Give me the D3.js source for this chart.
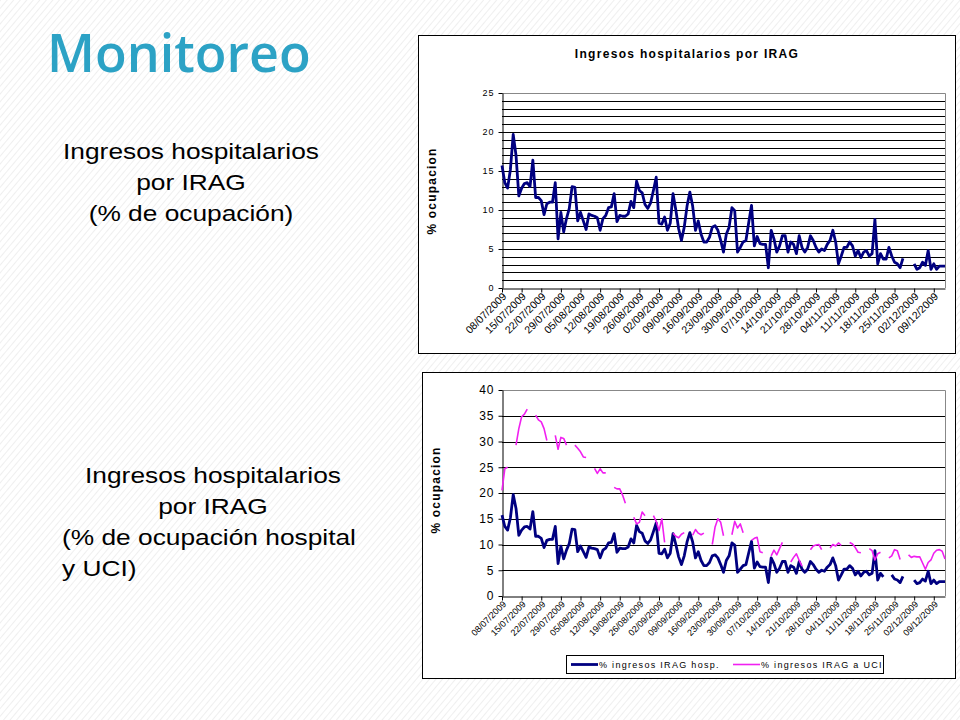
<!DOCTYPE html>
<html>
<head>
<meta charset="utf-8">
<script src="https://cdn.jsdelivr.net/npm/d3@7"></script>
<style>
body { margin: 0; background: #fff; }
svg { display: block; }
text { font-family: "Liberation Sans", Arial, sans-serif; }
</style>
</head>
<body>
<svg id="slide" width="960" height="720"></svg>
<script>
// weekly labels on the x axis (one every 7 days from 08/07/2009)
var weekLabels = ["08/07/2009","15/07/2009","22/07/2009","29/07/2009","05/08/2009","12/08/2009",
  "19/08/2009","26/08/2009","02/09/2009","09/09/2009","16/09/2009","23/09/2009","30/09/2009",
  "07/10/2009","14/10/2009","21/10/2009","28/10/2009","04/11/2009","11/11/2009","18/11/2009",
  "25/11/2009","02/12/2009","09/12/2009"];

// % ingresos IRAG hosp. (daily, 08/07 -> 13/12)
var hosp = [
  15.7, 13.5, 12.8, 15.2, 19.7, 17.0, 11.8, 12.8, 13.4, 13.5,
  13.0, 16.4, 11.6, 11.6, 11.2, 9.4, 10.8, 11.0, 11.0, 13.5,
  6.3, 9.7, 7.2, 8.9, 10.2, 13.0, 12.9, 8.6, 9.7, 8.6,
  7.5, 9.5, 9.3, 9.2, 9.0, 7.4, 8.9, 9.3, 10.3, 10.4,
  12.1, 8.5, 9.3, 9.2, 9.2, 9.5, 11.1, 10.3, 13.7, 12.5,
  12.2, 10.7, 10.2, 10.9, 12.5, 14.2, 8.3, 8.2, 9.1, 7.4,
  8.3, 12.1, 10.0, 7.6, 6.1, 7.8, 10.5, 12.3, 10.5, 7.4,
  8.6, 6.9, 5.9, 5.9, 6.5, 7.8, 8.0, 7.4, 6.1, 4.6,
  6.9, 7.8, 10.3, 9.9, 4.6, 5.2, 5.9, 6.1, 8.4, 10.6,
  5.4, 6.6, 5.7, 5.6, 5.6, 2.6, 7.4, 6.3, 4.6, 5.4,
  6.7, 6.7, 4.6, 5.9, 5.6, 4.4, 6.7, 5.2, 4.6, 5.2,
  6.7, 6.1, 5.2, 4.6, 5.0, 4.8, 5.6, 6.1, 7.4, 5.9,
  3.1, 4.1, 5.2, 5.2, 5.9, 5.4, 4.1, 4.8, 3.9, 4.6,
  4.8, 4.1, 4.4, 8.8, 3.1, 4.4, 3.7, 3.7, 5.2, 4.1,
  3.3, 3.1, 2.6, 3.8, null, null, null, 3.1, 2.4, 2.6,
  3.3, 2.9, 4.8, 2.4, 3.1, 2.4, 2.8, 2.8, 2.8
];

// % ingresos IRAG a UCI (weekdays only until December)
var uci = [
  20.5, 24.7, 25.0, null, null, 29.3, 32.5, 34.8, 35.3, 36.3,
  null, null, 35.1, 34.2, 33.8, 32.5, 30.2, null, null, 31.2,
  28.5, 30.8, 30.6, 29.3, null, null, 29.3, 28.7, 28.0, 27.0,
  26.9, null, null, 24.8, 23.8, 24.7, 23.9, 23.9, null, null,
  21.1, 20.8, 20.8, 19.6, 18.0, null, null, 15.3, 14.0, 14.3,
  16.3, 15.6, null, null, 15.6, 14.5, 12.7, 15.0, 10.4, null,
  null, 12.2, 11.6, 11.3, 12.0, 12.3, null, null, 11.8, 12.9,
  12.2, 11.9, 12.2, null, null, 10.0, 13.4, 15.0, 14.3, 11.7,
  null, null, 11.9, 14.5, 13.2, 14.0, 12.3, null, null, 10.8,
  11.2, 11.4, 8.6, 8.4, null, null, 7.8, 8.9, 8.0, 9.2,
  10.4, null, null, 6.6, 7.5, 8.2, 6.9, 5.8, null, null,
  9.0, 9.7, 9.9, 10.0, 9.0, null, null, 9.3, 10.0, 9.7,
  10.3, 9.8, null, null, 10.4, 10.1, 9.4, 8.5, 8.4, null,
  null, 9.2, 8.8, 7.0, 8.2, 8.5, null, null, 7.4, 7.8,
  9.0, 8.8, 7.1, null, null, 8.0, 7.5, 7.7, 7.6, 7.6,
  6.4, 5.2, 6.5, 7.0, 8.3, 8.9, 9.0, 8.7, 7.2
];

// days missing from the hosp. line in the second chart
var gapsBottom = [137, 138];

var ticksTop = [0, 5, 10, 15, 20, 25];
var ticksBottom = [0, 5, 10, 15, 20, 25, 30, 35, 40];

var svg = d3.select("#slide");

// faint diagonal stripes of the slide background
var defs = svg.append("defs");
var pat = defs.append("pattern")
  .attr("id", "stripes")
  .attr("width", 5).attr("height", 5)
  .attr("patternUnits", "userSpaceOnUse")
  .attr("patternTransform", "rotate(40)");
pat.append("line")
  .attr("x1", 0).attr("y1", 0).attr("x2", 0).attr("y2", 5)
  .style("stroke", "#efefef").style("stroke-width", 2);
svg.append("rect").attr("width", 960).attr("height", 720).style("fill", "url(#stripes)");

// left side texts
svg.append("text")
  .attr("x", 47).attr("y", 72)
  .style("font-family", "'Open Sans', 'Noto Sans', sans-serif")
  .style("font-weight", 600)
  .style("font-size", "52px")
  .style("fill", "#2ca2c5")
  .text("Monitoreo");

// the slide text is a bit wider than plain Arial, stretch it horizontally
function slideText(x, y, anchor, s) {
  svg.append("text")
    .attr("transform", "translate(" + x + "," + y + ") scale(1.17,1)")
    .style("font-size", "22.5px")
    .style("text-anchor", anchor)
    .style("fill", "#000")
    .text(s);
}
slideText(191, 159, "middle", "Ingresos hospitalarios");
slideText(191, 190, "middle", "por IRAG");
slideText(191, 221, "middle", "(% de ocupación)");

slideText(213, 483, "middle", "Ingresos hospitalarios");
slideText(213, 514, "middle", "por IRAG");
slideText(62, 545, "start", "(% de ocupación hospital");
slideText(62, 576, "start", "y UCI)");

function drawChart(cfg) {
  var g = svg.append("g");

  g.append("rect")
    .attr("x", cfg.box[0] + 0.5).attr("y", cfg.box[1] + 0.5)
    .attr("width", cfg.box[2]).attr("height", cfg.box[3])
    .style("fill", "#fff").style("stroke", "#000").style("stroke-width", 1);

  var x = d3.scaleLinear().domain([0, hosp.length - 1]).range([cfg.left, cfg.right]);
  var y = d3.scaleLinear().domain([0, cfg.yMax]).range([cfg.bottom, cfg.top]);

  // horizontal grid
  g.selectAll(".grid")
    .data(d3.range(cfg.gridStep, cfg.yMax, cfg.gridStep))
    .enter().append("line")
    .attr("x1", cfg.left).attr("x2", cfg.right)
    .attr("y1", function(d) { return Math.round(y(d)) + 0.5; })
    .attr("y2", function(d) { return Math.round(y(d)) + 0.5; })
    .style("stroke", "#000").style("stroke-width", 1);

  // grey top / right frame
  g.append("path")
    .attr("d", "M" + cfg.left + "," + (cfg.top + 0.5) + "H" + (cfg.right + 0.5) + "V" + cfg.bottom)
    .style("fill", "none").style("stroke", "#888").style("stroke-width", 1);

  // y axis
  var ya = g.append("g")
    .attr("transform", "translate(" + (cfg.left + 0.5) + ",0)")
    .call(d3.axisLeft(y).tickValues(cfg.yTicks).tickSize(4).tickPadding(4).tickSizeOuter(0));
  ya.select(".domain").style("stroke", "#000");
  ya.selectAll("line").style("stroke", "#000");
  ya.selectAll("text")
    .style("font-family", "'Liberation Sans', Arial, sans-serif")
    .style("font-size", cfg.yFont + "px")
    .style("letter-spacing", "1px")
    .style("fill", "#000");

  // x axis with rotated weekly dates
  var xa = g.append("g")
    .attr("transform", "translate(0," + (cfg.bottom + 0.5) + ")")
    .call(d3.axisBottom(x)
      .tickValues(weekLabels.map(function(d, i) { return i * 7; }))
      .tickFormat(function(d, i) { return weekLabels[i]; })
      .tickSize(4).tickSizeOuter(0));
  xa.select(".domain").style("stroke", "#000");
  xa.selectAll("line").style("stroke", "#000");
  xa.selectAll("text")
    .attr("x", 0).attr("y", 0).attr("dy", "0.35em")
    .attr("transform", "translate(2," + cfg.labelDrop + ") rotate(-45)")
    .style("text-anchor", "end")
    .style("font-family", "'Liberation Sans', Arial, sans-serif")
    .style("font-size", cfg.xFont + "px")
    .style("fill", "#000");

  // y axis title
  g.append("text")
    .attr("transform", "translate(" + cfg.yTitle[0] + "," + cfg.yTitle[1] + ") rotate(-90)")
    .style("text-anchor", "middle")
    .style("font-weight", "bold")
    .style("font-size", cfg.yTitleFont + "px")
    .style("letter-spacing", "1.2px")
    .text("% ocupacion");

  if (cfg.title) {
    g.append("text")
      .attr("x", cfg.title[0]).attr("y", cfg.title[1])
      .style("text-anchor", "middle")
      .style("font-weight", "bold")
      .style("font-size", "12px")
      .style("letter-spacing", "1.3px")
      .text("Ingresos hospitalarios por IRAG");
  }

  var line = d3.line()
    .defined(function(d) { return d != null; })
    .x(function(d, i) { return x(i); })
    .y(function(d) { return y(d); });

  cfg.series.forEach(function(s) {
    g.append("path")
      .datum(s.values)
      .attr("d", line)
      .style("fill", "none")
      .style("stroke", s.color)
      .style("stroke-width", s.width)
      .style("stroke-linejoin", "round");
  });

  if (cfg.legend) {
    var lg = g.append("g");
    lg.append("rect")
      .attr("x", 566.5).attr("y", 655.5).attr("width", 317).attr("height", 18)
      .style("fill", "#fff").style("stroke", "#000");
    cfg.series.forEach(function(s, i) {
      var lx = i === 0 ? 571 : 733;
      lg.append("line")
        .attr("x1", lx).attr("x2", lx + 27).attr("y1", 664.5).attr("y2", 664.5)
        .style("stroke", s.color).style("stroke-width", s.width);
      lg.append("text")
        .attr("x", lx + 28).attr("y", 668)
        .style("font-size", "9px")
        .style("letter-spacing", "1.3px")
        .text(s.name);
    });
  }
}

drawChart({
  box: [418, 35, 537, 318],
  left: 502, right: 945, top: 93, bottom: 288,
  yMax: 25, gridStep: 1, yTicks: ticksTop,
  yFont: 9, xFont: 10.5, labelDrop: 6,
  yTitle: [436, 191], yTitleFont: 12,
  title: [687, 58],
  series: [{ name: "% ingresos IRAG hosp.", values: hosp, color: "#000080", width: 2.8 }]
});

var hospBottom = hosp.map(function(v, i) { return gapsBottom.indexOf(i) >= 0 ? null : v; });

drawChart({
  box: [422, 372, 533, 306],
  left: 502, right: 945, top: 390, bottom: 596,
  yMax: 40, gridStep: 5, yTicks: ticksBottom,
  yFont: 12, xFont: 9, labelDrop: 6,
  yTitle: [440, 490], yTitleFont: 12,
  title: null,
  legend: true,
  series: [
    { name: "% ingresos IRAG hosp.", values: hospBottom, color: "#000080", width: 2.8 },
    { name: "% ingresos IRAG a UCI", values: uci, color: "#f020f0", width: 1.6 }
  ]
});
</script>
</body>
</html>
